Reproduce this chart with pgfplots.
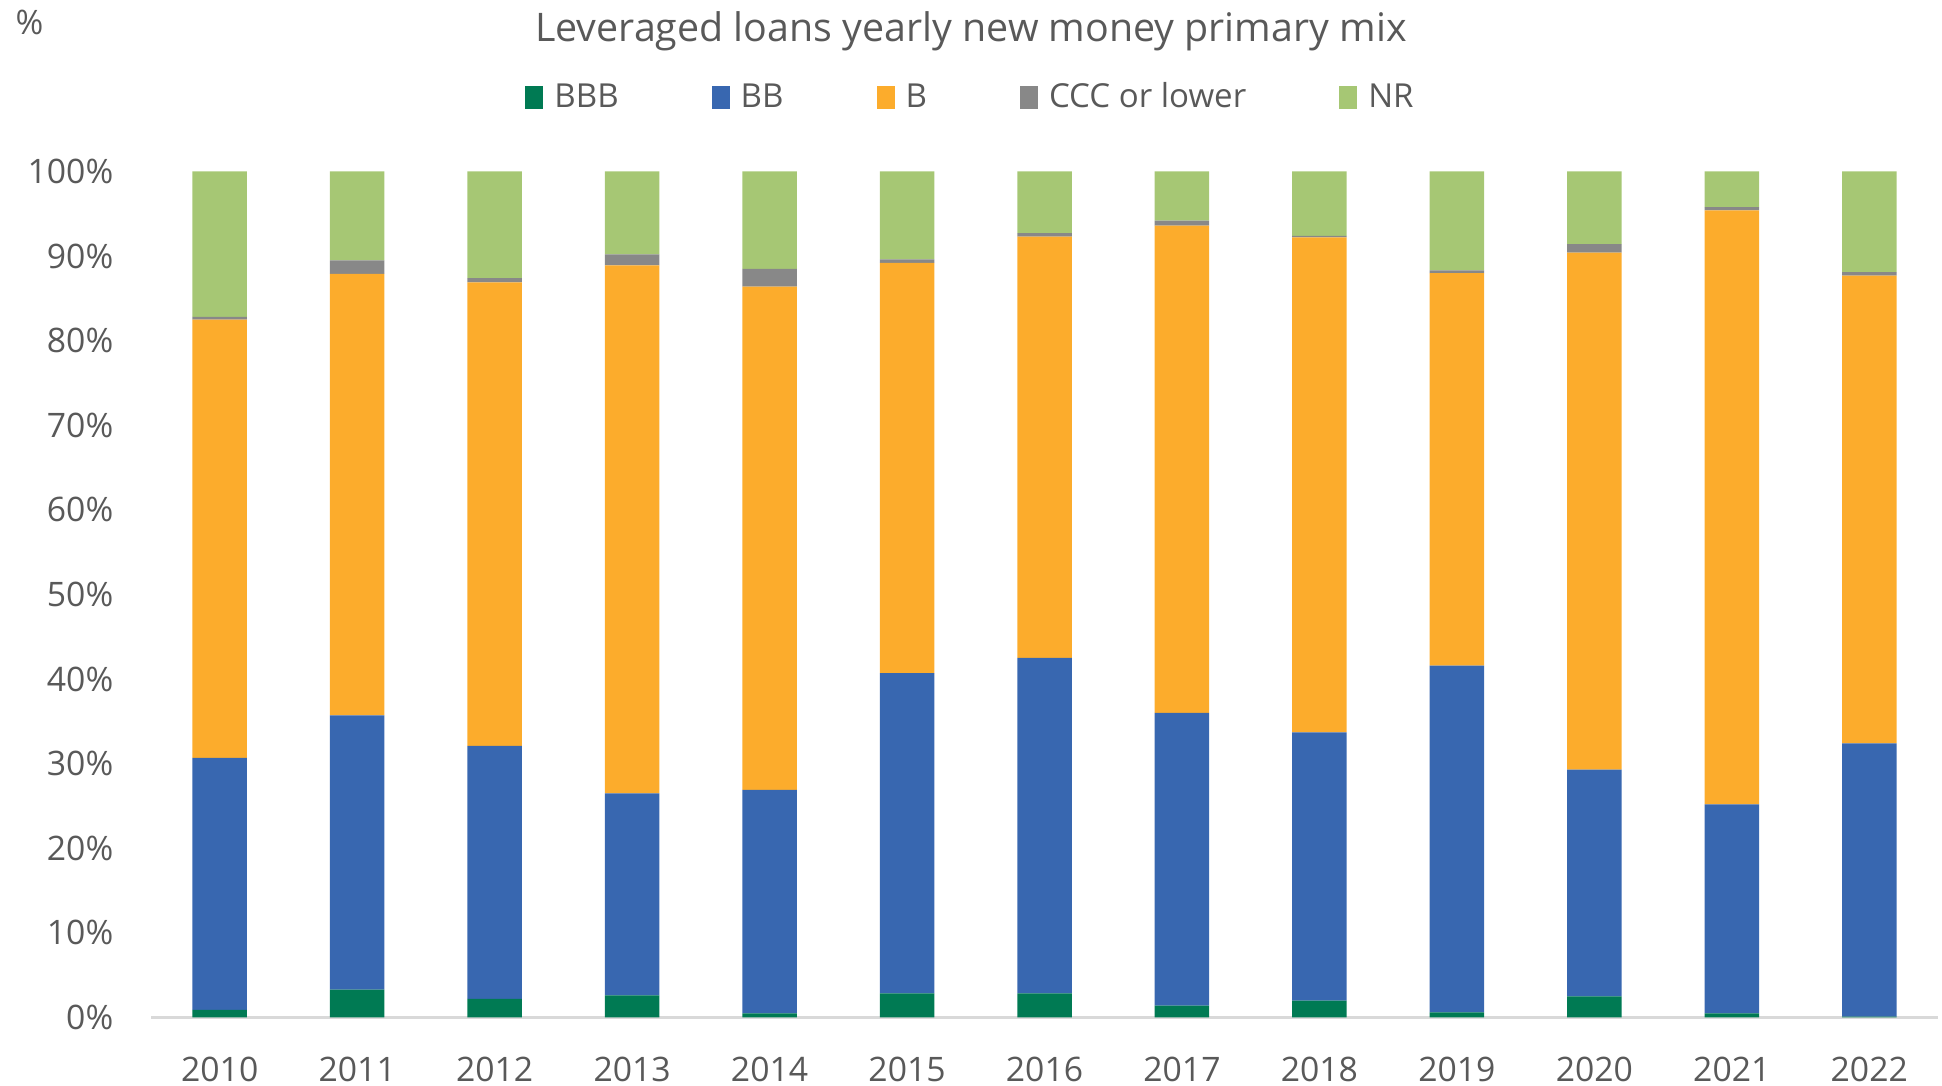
\documentclass[border=0pt]{standalone}
\usepackage{fontspec}
\setmainfont{Open Sans}
\usepackage{pgfplots}
\pgfplotsset{compat=1.18}
\usepackage{pgfplotstable}
\definecolor{cBBB}{HTML}{007A53}
\definecolor{cBB}{HTML}{3867B0}
\definecolor{cB}{HTML}{FCAC2C}
\definecolor{cCCC}{HTML}{888888}
\definecolor{cNR}{HTML}{A6C774}
\definecolor{txt}{HTML}{595959}
\definecolor{axl}{HTML}{D9D9D9}
\pgfplotstableread{
idx BBB BB B CCC NR
0 0.9 29.8 51.8 0.3 17.2
1 3.3 32.4 52.2 1.6 10.5
2 2.2 29.9 54.8 0.5 12.6
3 2.6 23.9 62.4 1.3 9.8
4 0.5 26.4 59.5 2.1 11.5
5 2.85 37.85 48.5 0.4 10.4
6 2.85 39.65 49.8 0.4 7.3
7 1.4 34.6 57.6 0.6 5.8
8 2.0 31.7 58.5 0.2 7.6
9 0.6 41.0 46.4 0.3 11.7
10 2.5 26.8 61.1 1.0 8.6
11 0.5 24.7 70.2 0.4 4.2
12 0.1 32.3 55.3 0.4 11.9
}\data
\begin{document}
\begin{tikzpicture}
\path[use as bounding box] (0,0) rectangle (194.2mm,108.6mm);
\begin{axis}[
  at={(15.1mm,6.85mm)}, anchor=south west,
  scale only axis, width=178.7mm, height=84.6mm,
  ybar stacked, bar width=5.45mm,
  xmin=-0.5, xmax=12.5, ymin=0, ymax=100,
  xtick={0,1,2,3,4,5,6,7,8,9,10,11,12},
  xticklabels={2010,2011,2012,2013,2014,2015,2016,2017,2018,2019,2020,2021,2022},
  ytick={0,10,20,30,40,50,60,70,80,90,100},
  yticklabel={\pgfmathprintnumber{\tick}\%},
  /pgf/number format/assume math mode=true,
  axis lines*=left,
  y axis line style={draw=none},
  x axis line style={draw=axl, line width=0.8pt},
  major tick length=0pt,
  tick style={draw=none},
  ticklabel style={font=\fontsize{9.6}{11}\selectfont, text=txt},
  yticklabel style={anchor=east, inner sep=0pt, xshift=-3.7mm},
  xticklabel style={anchor=north, inner sep=0pt, yshift=-3.9mm},
  legend columns=5,
  legend style={at={(0.46,1.087)}, anchor=center, draw=none, fill=none,
    font=\fontsize{9.4}{11}\selectfont, text=txt,
    /tikz/every even column/.append style={column sep=8.6mm},
    /tikz/every odd column/.append style={column sep=0.4mm}},
  legend image code/.code={\fill[#1] (0mm,-1.15mm) rectangle (1.8mm,1.15mm);},
]
\addplot[fill=cBBB, draw=none] table[x=idx, y=BBB] {\data};
\addplot[fill=cBB, draw=none] table[x=idx, y=BB] {\data};
\addplot[fill=cB, draw=none] table[x=idx, y=B] {\data};
\addplot[fill=cCCC, draw=none] table[x=idx, y=CCC] {\data};
\addplot[fill=cNR, draw=none] table[x=idx, y=NR] {\data};
\legend{BBB, BB, B, CCC or lower, NR}
\end{axis}
\node[anchor=base, text=txt, font=\fontsize{11.2}{13}\selectfont, inner sep=0pt] at (97.1mm,104.4mm) {Leveraged loans yearly new money primary mix};
\node[anchor=base west, text=txt, font=\fontsize{9.6}{11}\selectfont, inner sep=0pt] at (1.5mm,105.1mm) {\%};
\end{tikzpicture}
\end{document}
